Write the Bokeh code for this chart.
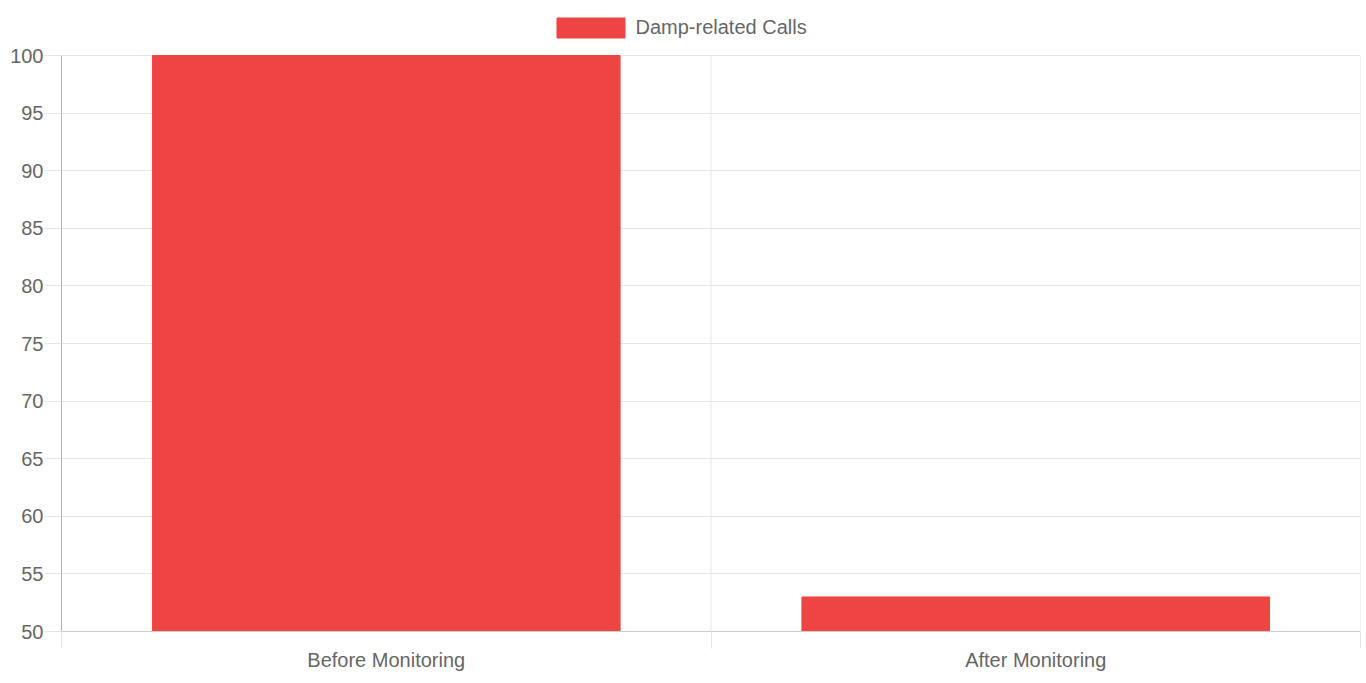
from bokeh.plotting import figure
from bokeh.models import (ColumnDataSource, Range1d, LinearAxis, FixedTicker, Grid,
                          Legend, LegendItem)
from bokeh.embed import file_html
from bokeh.resources import INLINE

# ---- data ----
categories = ["Before Monitoring", "After Monitoring"]
values = [100, 53]
series_name = "Damp-related Calls"
y_min, y_max, y_step = 50, 100, 5

# ---- styles / layout ----
FONT = "Liberation Sans"
TEXT = "#666666"
GRID = "#e5e5e5"
BAR = "#ef4444"
W, H = 1366, 683
LEFT, RIGHT, BOTTOM = 61, 6, 52
PLOT_TOP_PX = 55          # space above the value axis reserved for the legend
plot_h = H - BOTTOM - PLOT_TOP_PX
y_top = y_max + PLOT_TOP_PX * (y_max - y_min) / plot_h

xs = [i + 0.5 for i in range(len(categories))]
source = ColumnDataSource(dict(x=xs, top=values, bottom=[y_min] * len(values), cat=categories))

p = figure(width=W, height=H, output_backend="svg", toolbar_location=None,
           x_range=Range1d(0, len(categories)), y_range=Range1d(y_min, y_top),
           x_axis_location=None, y_axis_location=None,
           min_border_left=LEFT, min_border_right=RIGHT, min_border_top=0,
           min_border_bottom=BOTTOM)
p.outline_line_color = None
p.background_fill_color = "white"
p.border_fill_color = "white"
for g in list(p.grid):
    g.visible = False

yticks = list(range(y_min, y_max + 1, y_step))
bounds = list(range(len(categories) + 1))

# horizontal grid lines
p.add_layout(Grid(dimension=1, ticker=FixedTicker(ticks=yticks), grid_line_color=GRID))
# vertical grid lines at category boundaries (only over the value range)
p.segment(x0=bounds, y0=[y_min] * len(bounds), x1=bounds, y1=[y_max] * len(bounds),
          line_color=GRID, line_width=1)

# y axis
yax = LinearAxis(ticker=FixedTicker(ticks=yticks, minor_ticks=[]), bounds=(y_min, y_max))
yax.major_tick_out = 17
yax.major_tick_in = 0
yax.minor_tick_out = 0
yax.minor_tick_in = 0
yax.major_tick_line_color = GRID
yax.axis_line_color = "#b5b5b5"
yax.major_label_standoff = 1
yax.major_label_text_font = FONT
yax.major_label_text_font_size = "20px"
yax.major_label_text_color = TEXT
p.add_layout(yax, "left")

# x boundary ticks axis
xax1 = LinearAxis(ticker=FixedTicker(ticks=bounds, minor_ticks=[]))
xax1.major_tick_out = 17
xax1.major_tick_in = 0
xax1.minor_tick_out = 0
xax1.major_tick_line_color = GRID
xax1.axis_line_color = "#cccccc"
xax1.major_label_text_font_size = "0px"
xax1.major_label_overrides = {b: "" for b in bounds}
xax1.major_label_standoff = 0
p.add_layout(xax1, "below")

# x category labels axis
xax2 = LinearAxis(ticker=FixedTicker(ticks=xs, minor_ticks=[]))
xax2.major_tick_out = 0
xax2.major_tick_in = 0
xax2.minor_tick_out = 0
xax2.major_tick_line_color = None
xax2.axis_line_color = None
xax2.major_label_overrides = {x: c for x, c in zip(xs, categories)}
xax2.major_label_standoff = 0
xax2.major_label_text_font = FONT
xax2.major_label_text_font_size = "20px"
xax2.major_label_text_color = TEXT
p.add_layout(xax2, "below")

r = p.vbar(x="x", top="top", bottom="bottom", width=0.72, source=source,
           fill_color=BAR, line_color=BAR, line_width=1)

# legend (bar swatches are drawn at 80% of the glyph box)
GW, GH = 85, 25
legend = Legend(items=[LegendItem(label=series_name, renderers=[r])],
                orientation="horizontal",
                location=(556 - 0.1 * GW - LEFT, H - BOTTOM - (17 - 0.1 * GH + GH)))
legend.glyph_width = GW
legend.glyph_height = GH
legend.label_height = 20
legend.label_text_font = FONT
legend.label_text_font_size = "20px"
legend.label_text_color = TEXT
legend.label_standoff = 3
legend.border_line_color = None
legend.background_fill_alpha = 0
legend.padding = 0
legend.margin = 0
legend.spacing = 0
p.add_layout(legend, "center")

open("out.html", "w").write(file_html(p, INLINE))
